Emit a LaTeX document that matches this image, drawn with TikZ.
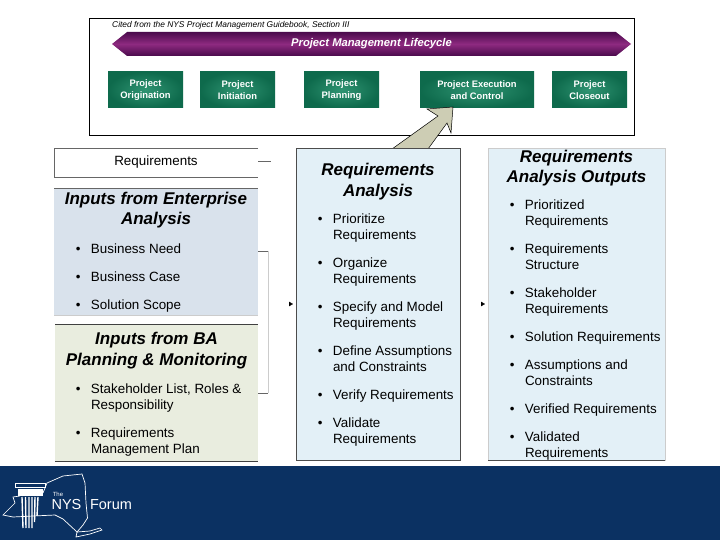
\documentclass[tikz,border=0pt]{standalone}
\usepackage{fontspec}
\setmainfont{Liberation Sans}
\usetikzlibrary{shapes.arrows, arrows.meta, positioning}

\definecolor{panelblue}{HTML}{E3F0F7}
\definecolor{inputblue}{HTML}{D9E2EC}
\definecolor{inputolive}{HTML}{E9EDDF}
\definecolor{footerblue}{HTML}{0B3162}
\definecolor{arrowtan}{HTML}{CDCDB4}
\definecolor{purpledark}{HTML}{4A0A4C}
\definecolor{purplemid}{HTML}{8E2A80}
\definecolor{greendark}{HTML}{0E6A4C}
\definecolor{greenlight}{HTML}{2F9472}

\newcommand{\itemstrut}{\rule[-4.8pt]{0pt}{16pt}}
\newcommand{\bulletmark}{\leavevmode\itemstrut\llap{\textbullet\hspace{10.5pt}}}

\begin{document}
\begin{tikzpicture}[
    x=1pt, y=-1pt,
    node distance=12pt,
    % Box styles
    phasebox/.style={rectangle, inner sep=0pt, outer sep=0pt, inner color=greenlight, outer color=greendark,
        minimum width=75pt, minimum height=36pt, align=center, text=white,
        font=\fontsize{9.4}{11.5}\selectfont\bfseries},
    panel/.style={rectangle, anchor=north west, inner sep=0pt, outer sep=0pt},
    paneltitle/.style={inner sep=0pt, align=center,
        font=\fontsize{17}{20.5}\selectfont\bfseries\itshape},
    listitem/.style={inner sep=0pt, outer sep=0pt, align=left, font=\fontsize{13.4}{16}\selectfont},
    lifecycle/.style={double arrow, double arrow head extend=0pt, double arrow tip angle=77,
        inner sep=0pt, minimum width=24pt, minimum height=519pt, text=white,
        top color=purpledark, bottom color=purpledark, middle color=purplemid,
        font=\fontsize{11.2}{13}\selectfont\bfseries\itshape},
    blockarrow/.style={draw=black, line width=0.5pt, fill=arrowtan},
    smallarrow/.style={draw=white, -{Triangle[length=4pt, width=4.5pt, black]}, shorten >=3pt, shorten <=1.5pt},
    edgeline/.style={draw=black!60, line width=0.8pt},
    lightline/.style={draw=black!20, line width=0.8pt},
    logoline/.style={draw=white, line width=0.7pt},
]
\useasboundingbox (0,0) rectangle (720,540);

% ============ Lifecycle frame ============
\node[panel, draw=black, line width=0.8pt, fill=white, minimum width=545pt, minimum height=117pt] (frame) at (89,18) {};
\node[anchor=west, inner sep=0pt, font=\fontsize{8.4}{10}\selectfont\itshape] (cited) at (112,25)
    {Cited from the NYS Project Management Guidebook, Section III};
\node[lifecycle] (lifecycle) at (371.5,44) {Project Management Lifecycle};

\node[phasebox, anchor=north west] (origination) at (108,72) {Project\\Origination};
\node[phasebox, right=17pt of origination] (initiation) {Project\\Initiation};
\node[phasebox, right=29pt of initiation] (planning) {Project\\Planning};
\node[phasebox, right=41pt of planning, minimum width=114pt] (execution) {Project Execution\\and Control};
\node[phasebox, right=18pt of execution] (closeout) {Project\\Closeout};

% ============ Block arrow up to Execution ============
\draw[blockarrow] (392,149) -- (438,116) -- (427,109) -- (453,107) -- (451,133) -- (447,123) -- (428,149) -- cycle;

% ============ Left column: inputs ============
\node[panel, fill=white, minimum width=204pt, minimum height=29pt] (requirements) at (54,148)
    {\fontsize{13.4}{16}\selectfont Requirements};
\draw[edgeline] (requirements.north east) -- (requirements.north west) -- (requirements.south west) -- (requirements.south east);
\coordinate (reqtick) at (271,161);
\draw[edgeline] (requirements.east |- reqtick) -- (reqtick);

\node[panel, fill=inputblue, minimum width=204pt, minimum height=127pt] (enterprise) at (54,188) {};
\draw[edgeline] (enterprise.north west) -- (enterprise.north east);
\draw[lightline] (enterprise.south west) -- (enterprise.south east);
\node[paneltitle, below=3.5pt of enterprise.north] (enterprisetitle) {Inputs from Enterprise\\Analysis};
\node[listitem, anchor=north west] (need) at (91,242.5) {\bulletmark Business Need\itemstrut};
\node[listitem, below right=12pt and 0pt of need.south west] (case) {\bulletmark Business Case\itemstrut};
\node[listitem, below right=12pt and 0pt of case.south west] (scope) {\bulletmark Solution Scope\itemstrut};

\node[panel, fill=inputolive, minimum width=203pt, minimum height=137pt] (planninginputs) at (55,324) {};
\draw[draw=black!75, line width=0.8pt] (planninginputs.north west) -- (planninginputs.north east);
\draw[draw=black!75, line width=0.8pt] (planninginputs.south west) -- (planninginputs.south east);
\node[paneltitle, below=8pt of planninginputs.north] (planningtitle) {Inputs from BA\\Planning \& Monitoring};
\node[listitem, anchor=north west] (stakeholders) at (91,382.5) {\bulletmark Stakeholder List, Roles \&\\Responsibility\itemstrut};
\node[listitem, below right=12pt and 0pt of stakeholders.south west] (plan) {\bulletmark Requirements\\Management Plan\itemstrut};

% Bracket joining the two input panels
\coordinate (bracketout) at (258,251);
\coordinate (brackettop) at (268,251);
\coordinate (bracketbottom) at (268,393);
\coordinate (bracketin) at (258,393);
\draw[edgeline] (bracketout) -- (brackettop);
\draw[lightline] (brackettop) -- (bracketbottom);
\draw[edgeline] (bracketbottom) -- (bracketin);

% ============ Middle column: analysis ============
\node[panel, draw=black!70, line width=0.8pt, fill=panelblue, minimum width=164pt, minimum height=312pt] (analysis) at (296,148) {};
\node[paneltitle, below=15pt of analysis.north] (analysistitle) {Requirements\\Analysis};
\node[listitem, anchor=north west] (prioritize) at (333,212.5) {\bulletmark Prioritize\\Requirements\itemstrut};
\node[listitem, below right=12pt and 0pt of prioritize.south west] (organize) {\bulletmark Organize\\Requirements\itemstrut};
\node[listitem, below right=12pt and 0pt of organize.south west] (specify) {\bulletmark Specify and Model\\Requirements\itemstrut};
\node[listitem, below right=12pt and 0pt of specify.south west] (define) {\bulletmark Define Assumptions\\and Constraints\itemstrut};
\node[listitem, below right=12pt and 0pt of define.south west] (verify) {\bulletmark Verify Requirements\itemstrut};
\node[listitem, below right=12pt and 0pt of verify.south west] (validate) {\bulletmark Validate\\Requirements\itemstrut};

% ============ Right column: outputs ============
\node[panel, draw=black!20, line width=0.8pt, fill=panelblue, minimum width=177pt, minimum height=312pt] (outputs) at (488,148) {};
\draw[draw=black!70, line width=0.8pt] (outputs.south west) -- (outputs.south east);
\node[paneltitle, below=1.5pt of outputs.north] (outputstitle) {Requirements\\Analysis Outputs};
\node[listitem, anchor=north west] (prioritized) at (525,198.5) {\bulletmark Prioritized\\Requirements\itemstrut};
\node[listitem, below right=12pt and 0pt of prioritized.south west] (structure) {\bulletmark Requirements\\Structure\itemstrut};
\node[listitem, below right=12pt and 0pt of structure.south west] (stakeholderreq) {\bulletmark Stakeholder\\Requirements\itemstrut};
\node[listitem, below right=12pt and 0pt of stakeholderreq.south west] (solution) {\bulletmark Solution Requirements\itemstrut};
\node[listitem, below right=12pt and 0pt of solution.south west] (assumptions) {\bulletmark Assumptions and\\Constraints\itemstrut};
\node[listitem, below right=12pt and 0pt of assumptions.south west] (verified) {\bulletmark Verified Requirements\itemstrut};
\node[listitem, below right=12pt and 0pt of verified.south west] (validated) {\bulletmark Validated\\Requirements\itemstrut};

% ============ Small arrow tips between columns ============
\coordinate (flowin) at (272,304);
\draw[smallarrow] (flowin) -- (flowin -| analysis.west);
\draw[smallarrow] (flowin -| analysis.east) -- (flowin -| outputs.west);

% ============ Footer band and logo ============
\node[panel, fill=footerblue, minimum width=720pt, minimum height=74pt] (footer) at (0,466) {};
\draw[logoline] (43,493) -- (47,483) -- (63,476) -- (82,474) -- (85,483) -- (86,503) -- (87.5,518) -- (83,525) -- (77,532)
    -- (63,519) -- (55,515) -- (33,516) -- (13,517) -- (3,515) -- (15,503) -- (13,497) -- (20,496);
\draw[logoline] (77,532) -- (90,531) -- (100,528) -- (102,530) -- (90,534) -- (76,537) -- cycle;
\draw[logoline, line width=1pt] (15,483) rectangle (45,487);
\draw[logoline, fill=white] (18,489) rectangle (42,495);
\draw[draw=white, line width=1.4pt] (22,497) -- (23,528) (25.5,497) -- (26,528) (29,497) -- (29,528)
    (32,497) -- (32,528) (35,497) -- (34.5,522) (38,497) -- (37,516);
\node[inner sep=0pt, text=white, font=\fontsize{6}{7}\selectfont] (the) at (58,494) {The};
\node[inner sep=0pt, text=white, font=\fontsize{14.5}{16}\selectfont] (nys) at (66.5,505) {NYS};
\node[inner sep=0pt, text=white, font=\fontsize{14.5}{16}\selectfont] (forum) at (111,505) {Forum};

\end{tikzpicture}
\end{document}
